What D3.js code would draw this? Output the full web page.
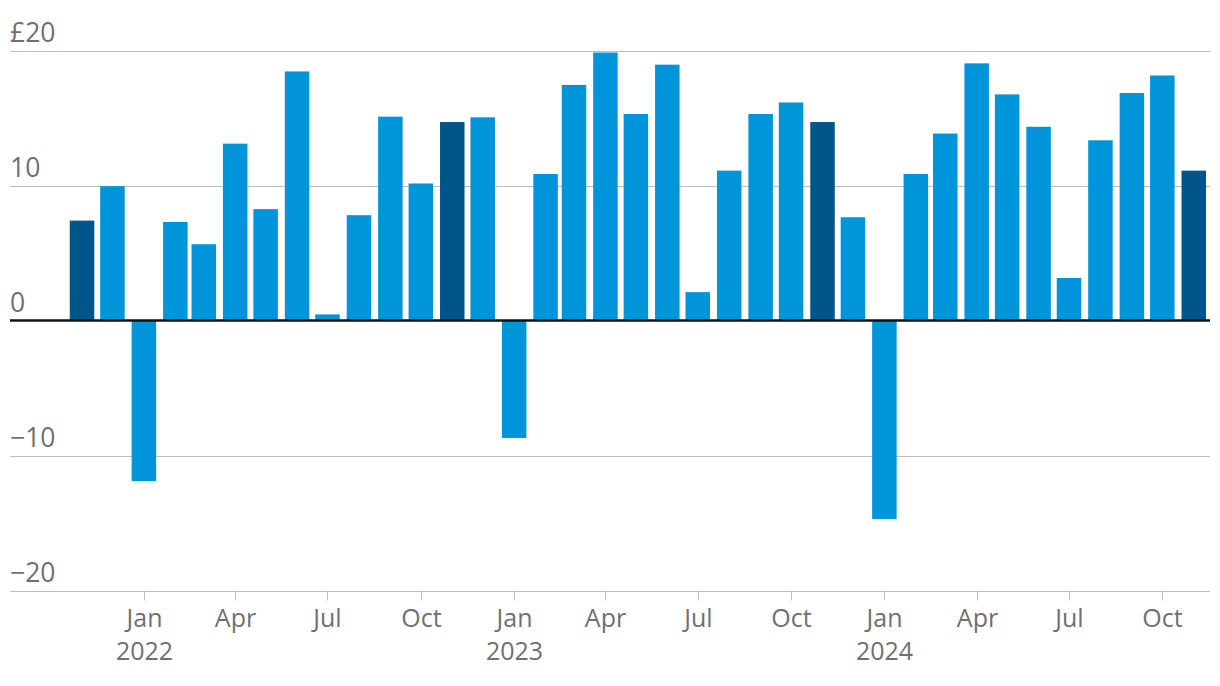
<!DOCTYPE html>
<html>
<head>
<meta charset="utf-8">
<script src="https://cdn.jsdelivr.net/npm/d3@7"></script>
<style>
  html, body { margin: 0; padding: 0; background: #ffffff; }
  svg { display: block; font-family: "Open Sans", "Noto Sans", sans-serif; }
</style>
</head>
<body>
<svg id="chart" width="1220" height="686"></svg>
<script>
// ---- data ----
const months = [
  "2021-11","2021-12",
  "2022-01","2022-02","2022-03","2022-04","2022-05","2022-06","2022-07","2022-08","2022-09","2022-10","2022-11","2022-12",
  "2023-01","2023-02","2023-03","2023-04","2023-05","2023-06","2023-07","2023-08","2023-09","2023-10","2023-11","2023-12",
  "2024-01","2024-02","2024-03","2024-04","2024-05","2024-06","2024-07","2024-08","2024-09","2024-10","2024-11"
];
const values = [
  7.4, 9.95,
  -11.9, 7.3, 5.65, 13.1, 8.25, 18.45, 0.45, 7.8, 15.1, 10.15, 14.7, 15.05,
  -8.7, 10.85, 17.45, 19.85, 15.3, 18.95, 2.1, 11.1, 15.3, 16.15, 14.7, 7.65,
  -14.7, 10.85, 13.85, 19.05, 16.75, 14.35, 3.15, 13.35, 16.85, 18.15, 11.1
];
const darkMonths = ["2021-11","2022-11","2023-11","2024-11"];
const yTicks = [20, 10, 0, -10, -20];
const yTickLabels = ["£20", "10", "0", "−10", "−20"];
const xTickMonths = ["2022-01","2022-04","2022-07","2022-10","2023-01","2023-04","2023-07","2023-10","2024-01","2024-04","2024-07","2024-10"];
const monthNames = ["Jan","Feb","Mar","Apr","May","Jun","Jul","Aug","Sep","Oct","Nov","Dec"];

// ---- layout ----
const left = 10, right = 1210;
const parse = s => { const [y, m] = s.split("-").map(Number); return new Date(y, m - 1, 1); };

const x = d3.scaleTime()
  .domain([new Date(2021, 7, 22), new Date(2024, 10, 17)])
  .range([left, right]);
const y = d3.scaleLinear().domain([-20, 20]).range([590.5, 50.5]);

const barW = 24.5;
const colLight = "#0094da";
const colDark = "#00568a";
const textCol = "#707070";
const gridCol = "#bcbcbc";

const svg = d3.select("#chart");

// gridlines
svg.append("g").selectAll("line")
  .data(yTicks.filter(v => v !== 0))
  .join("line")
  .attr("x1", left).attr("x2", right)
  .attr("y1", d => Math.round(y(d)) + 0.5).attr("y2", d => Math.round(y(d)) + 0.5)
  .attr("stroke", gridCol).attr("stroke-width", 1);

// y labels
svg.append("g").selectAll("text")
  .data(yTicks)
  .join("text")
  .attr("x", left)
  .attr("y", d => y(d) - 9)
  .attr("fill", textCol)
  .attr("font-size", 26.5)
  .text((d, i) => yTickLabels[i]);

// bars
const data = months.map((m, i) => ({ m, date: parse(m), v: values[i] }));
svg.append("g").selectAll("rect")
  .data(data)
  .join("rect")
  .attr("x", d => x(d.date) - barW / 2)
  .attr("width", barW)
  .attr("y", d => y(Math.max(0, d.v)))
  .attr("height", d => Math.abs(y(d.v) - y(0)))
  .attr("fill", d => darkMonths.includes(d.m) ? colDark : colLight);

// zero line
svg.append("line")
  .attr("x1", left).attr("x2", right)
  .attr("y1", y(0)).attr("y2", y(0))
  .attr("stroke", "#121212").attr("stroke-width", 2.6);

// x axis ticks and labels
const xt = svg.append("g").selectAll("g")
  .data(xTickMonths.map(parse))
  .join("g")
  .attr("transform", d => `translate(${Math.round(x(d)) + 0.5},0)`);
xt.append("line")
  .attr("y1", y(-20)).attr("y2", y(-20) + 10)
  .attr("stroke", gridCol).attr("stroke-width", 1);
xt.append("text")
  .attr("y", 627)
  .attr("text-anchor", "middle")
  .attr("fill", textCol)
  .attr("font-size", 25)
  .text(d => monthNames[d.getMonth()]);
xt.filter(d => d.getMonth() === 0).append("text")
  .attr("y", 660)
  .attr("text-anchor", "middle")
  .attr("fill", textCol)
  .attr("font-size", 25)
  .text(d => d.getFullYear());
</script>
</body>
</html>
